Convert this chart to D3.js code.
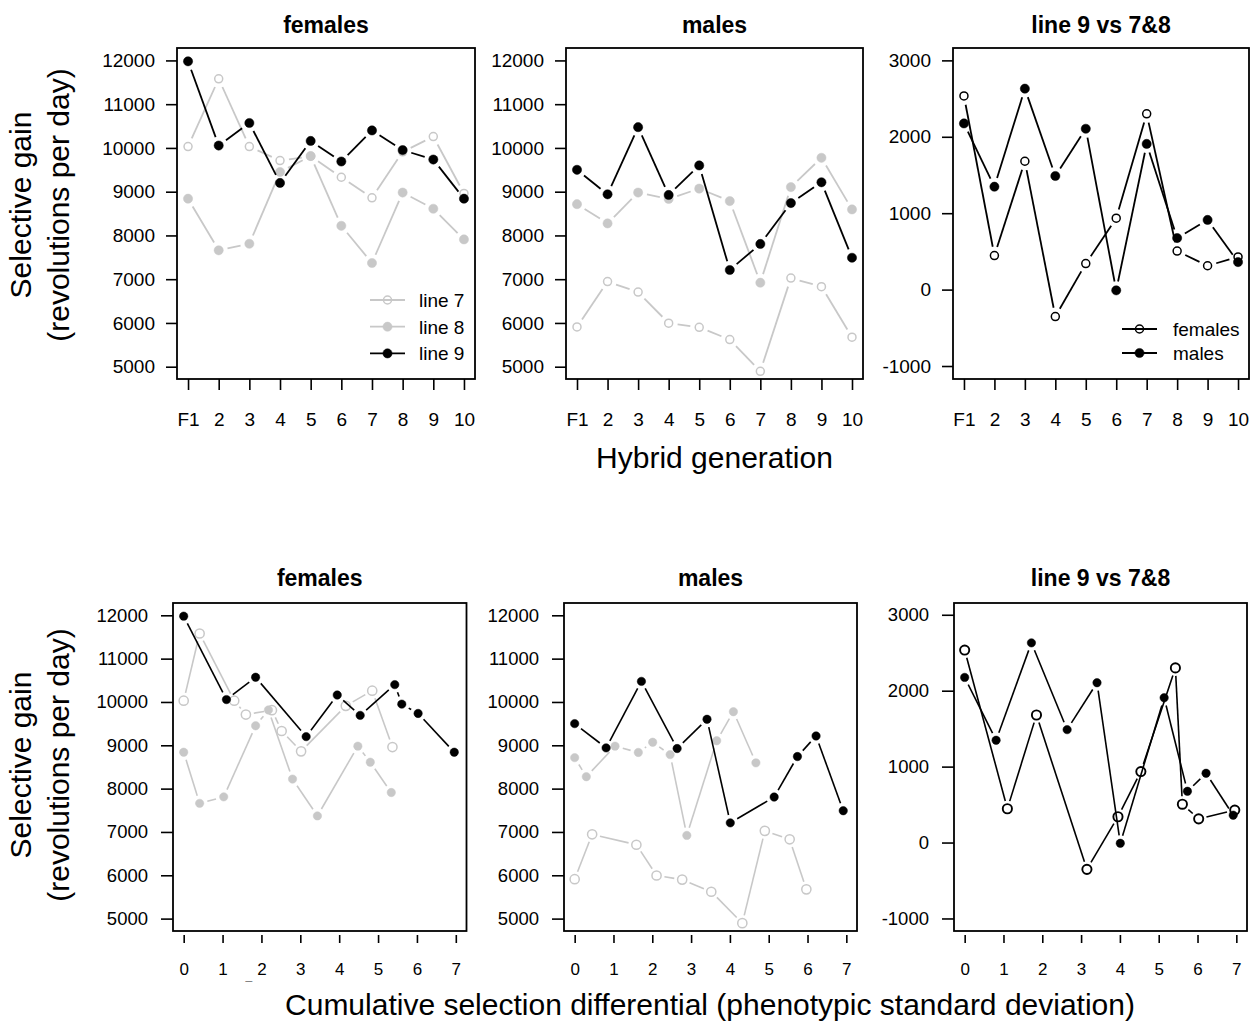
<!DOCTYPE html>
<html>
<head>
<meta charset="utf-8">
<script src="https://cdn.jsdelivr.net/npm/d3@7"></script>
<style>
  body { margin: 0; background: #fff; }
  text { font-family: "Liberation Sans", Arial, Helvetica, sans-serif; }
</style>
</head>
<body>
<svg id="chart"></svg>
<script>
// ---- data ----
const generations = ["F1", "2", "3", "4", "5", "6", "7", "8", "9", "10"];

// selective gain, revolutions per day
const femLine7 = [10030, 11580, 10030, 9710, 9810, 9330, 8860, 9910, 10260, 8960];
const femLine8 = [8840, 7660, 7810, 9450, 9815, 8220, 7370, 8980, 8610, 7910];
const femLine9 = [11980, 10055, 10570, 9200, 10160, 9690, 10400, 9950, 9735, 8840];
const maleLine7 = [5910, 6945, 6705, 5995, 5900, 5620, 4895, 7025, 6830, 5675];
const maleLine8 = [8715, 8275, 8980, 8835, 9070, 8785, 6920, 9105, 9775, 8595];
const maleLine9 = [9500, 8940, 10475, 8925, 9600, 7210, 7805, 8740, 9215, 7490];

// line 9 minus mean of lines 7 & 8
const diffFemales = [2535, 445, 1680, -353, 340, 935, 2300, 505, 312, 428];
const diffMales = [2175, 1347, 2630, 1487, 2105, -10, 1907, 675, 912, 360];

// cumulative selection differential (phenotypic SD)
const femSD7 = [0, 0.41, 1.30, 1.60, 2.27, 2.52, 3.02, 4.17, 4.85, 5.37];
const femSD8 = [0, 0.41, 1.03, 1.85, 2.18, 2.80, 3.44, 4.48, 4.80, 5.34];
const femSD9 = [0, 1.10, 1.85, 3.15, 3.95, 4.54, 5.43, 5.61, 6.03, 6.96];
const maleSD7 = [0, 0.45, 1.59, 2.11, 2.77, 3.52, 4.32, 4.90, 5.54, 5.97];
const maleSD8 = [0, 0.30, 1.04, 1.64, 2.01, 2.46, 2.89, 3.66, 4.09, 4.67];
const maleSD9 = [0, 0.81, 1.72, 2.64, 3.41, 4.01, 5.14, 5.74, 6.22, 6.92];

const gainTicks = [5000, 6000, 7000, 8000, 9000, 10000, 11000, 12000];
const diffTicks = [-1000, 0, 1000, 2000, 3000];
const sdTicks = [0, 1, 2, 3, 4, 5, 6, 7];

const grey = "#c8c8c8";
const genIndex = generations.map((d, i) => i + 1);

const svg = d3.select("#chart").attr("width", 1251).attr("height", 1021);

function drawPanel(p) {
  const x = d3.scaleLinear().domain(p.xDomain).range([p.left, p.right]);
  const y = d3.scaleLinear().domain(p.yDomain).range([p.bottom, p.top]);
  const g = svg.append("g");

  // title
  g.append("text")
    .attr("x", (p.left + p.right) / 2)
    .attr("y", p.titleY)
    .attr("text-anchor", "middle")
    .style("font-size", "23px")
    .style("font-weight", "bold")
    .text(p.title);

  // x axis (ticks only, like R)
  const xAxis = d3.axisBottom(x)
    .tickValues(p.xTicks)
    .tickSizeOuter(0)
    .tickSize(p.xTickLen)
    .tickPadding(p.xTickPad);
  if (p.xFormat) xAxis.tickFormat(p.xFormat);
  const xg = g.append("g")
    .attr("transform", `translate(0,${p.bottom + p.xTickGap})`)
    .call(xAxis);
  xg.select(".domain").remove();
  xg.selectAll("line").attr("stroke", "#000").attr("stroke-width", 1.6);
  xg.selectAll("text").attr("fill", "#000").style("font-size", p.xFont + "px")
    .style("font-family", '"Liberation Sans", Arial, sans-serif');

  // y axis
  const yAxis = d3.axisLeft(y)
    .tickValues(p.yTicks)
    .tickSizeOuter(0)
    .tickSize(p.yTickLen)
    .tickPadding(p.yTickPad)
    .tickFormat(d => d < 0 ? "-" + Math.abs(d) : String(d));
  const yg = g.append("g")
    .attr("transform", `translate(${p.left},0)`)
    .call(yAxis);
  yg.select(".domain").remove();
  yg.selectAll("line").attr("stroke", "#000").attr("stroke-width", 1.6);
  yg.selectAll("text").attr("fill", "#000").style("font-size", p.yFont + "px")
    .style("font-family", '"Liberation Sans", Arial, sans-serif');

  // series: lines with gaps round the points (R type = "b")
  p.series.forEach(s => {
    const pts = s.x.map((xv, i) => [x(xv), y(s.y[i])]);
    for (let i = 0; i < pts.length - 1; i++) {
      const [x0, y0] = pts[i], [x1, y1] = pts[i + 1];
      const dx = x1 - x0, dy = y1 - y0;
      const len = Math.hypot(dx, dy);
      if (len <= 2 * p.gap) continue;
      const ux = dx / len, uy = dy / len;
      g.append("line")
        .attr("x1", x0 + ux * p.gap).attr("y1", y0 + uy * p.gap)
        .attr("x2", x1 - ux * p.gap).attr("y2", y1 - uy * p.gap)
        .attr("stroke", s.color)
        .attr("stroke-width", p.lineWidth);
    }
    g.selectAll(null)
      .data(pts)
      .enter().append("circle")
      .attr("cx", d => d[0])
      .attr("cy", d => d[1])
      .attr("r", s.filled ? p.dotR : p.ringR)
      .attr("fill", s.filled ? s.color : "none")
      .attr("stroke", s.color)
      .attr("stroke-width", s.filled ? 0.5 : p.ringW);
  });

  // legend
  if (p.legend) {
    const L = p.legend;
    L.items.forEach((it, i) => {
      const ly = L.y + i * L.step;
      g.append("line")
        .attr("x1", L.x).attr("x2", L.x + L.len)
        .attr("y1", ly).attr("y2", ly)
        .attr("stroke", it.color).attr("stroke-width", 1.8);
      g.append("circle")
        .attr("cx", L.x + L.len / 2).attr("cy", ly)
        .attr("r", it.filled ? p.dotR : p.ringR)
        .attr("fill", it.filled ? it.color : "none")
        .attr("stroke", it.color)
        .attr("stroke-width", it.filled ? 0.5 : p.ringW);
      g.append("text")
        .attr("x", L.textX).attr("y", ly + 7)
        .style("font-size", "19px")
        .text(it.label);
    });
  }

  // frame
  g.append("rect")
    .attr("x", p.left).attr("y", p.top)
    .attr("width", p.right - p.left).attr("height", p.bottom - p.top)
    .attr("fill", "none").attr("stroke", "#000").attr("stroke-width", 1.8);

  return x;
}

// shared settings for each row
const topRow = {
  top: 48, bottom: 379, titleY: 33,
  xDomain: [0.64, 10.36], xTicks: genIndex, xFormat: d => generations[d - 1],
  xTickLen: 11, xTickGap: 0, xTickPad: 23, xFont: 19,
  yTickLen: 11, yTickPad: 11, yFont: 19,
  gap: 9, lineWidth: 1.8, dotR: 4.6, ringR: 4, ringW: 1.5
};
const bottomRow = {
  top: 603, bottom: 931, titleY: 586,
  xDomain: [-0.275, 7.275], xTicks: sdTicks,
  xTickLen: 8, xTickGap: 4, xTickPad: 20, xFont: 17,
  yTickLen: 12, yTickPad: 13, yFont: 18.5,
  gap: 8, lineWidth: 1.6, dotR: 4.2, ringR: 4.6, ringW: 1.5
};

// ---- top row: by hybrid generation ----
drawPanel(Object.assign({}, topRow, {
  title: "females", left: 177, right: 475,
  yDomain: [4719, 12284], yTicks: gainTicks,
  series: [
    { x: genIndex, y: femLine7, color: grey, filled: false },
    { x: genIndex, y: femLine8, color: grey, filled: true },
    { x: genIndex, y: femLine9, color: "#000", filled: true }
  ],
  legend: {
    x: 370, len: 35, textX: 419, y: 300, step: 26.7,
    items: [
      { label: "line 7", color: grey, filled: false },
      { label: "line 8", color: grey, filled: true },
      { label: "line 9", color: "#000", filled: true }
    ]
  }
}));

drawPanel(Object.assign({}, topRow, {
  title: "males", left: 566, right: 863,
  yDomain: [4719, 12284], yTicks: gainTicks,
  series: [
    { x: genIndex, y: maleLine7, color: grey, filled: false },
    { x: genIndex, y: maleLine8, color: grey, filled: true },
    { x: genIndex, y: maleLine9, color: "#000", filled: true }
  ]
}));

drawPanel(Object.assign({}, topRow, {
  title: "line 9 vs 7&8", left: 953, right: 1249,
  yDomain: [-1170, 3162], yTicks: diffTicks,
  series: [
    { x: genIndex, y: diffFemales, color: "#000", filled: false },
    { x: genIndex, y: diffMales, color: "#000", filled: true }
  ],
  legend: {
    x: 1122, len: 35, textX: 1173, y: 329, step: 24,
    items: [
      { label: "females", color: "#000", filled: false },
      { label: "males", color: "#000", filled: true }
    ]
  }
}));

// ---- bottom row: by cumulative selection differential ----
const xFemBottom = drawPanel(Object.assign({}, bottomRow, {
  title: "females", left: 173, right: 466.5,
  yDomain: [4714, 12284], yTicks: gainTicks,
  series: [
    { x: femSD7, y: femLine7, color: grey, filled: false },
    { x: femSD8, y: femLine8, color: grey, filled: true },
    { x: femSD9, y: femLine9, color: "#000", filled: true }
  ]
}));

drawPanel(Object.assign({}, bottomRow, {
  title: "males", left: 564, right: 857,
  yDomain: [4714, 12284], yTicks: gainTicks,
  series: [
    { x: maleSD7, y: maleLine7, color: grey, filled: false },
    { x: maleSD8, y: maleLine8, color: grey, filled: true },
    { x: maleSD9, y: maleLine9, color: "#000", filled: true }
  ]
}));

drawPanel(Object.assign({}, bottomRow, {
  title: "line 9 vs 7&8", left: 954, right: 1247,
  yDomain: [-1165, 3155], yTicks: diffTicks,
  ringW: 1.9,
  series: [
    { x: femSD9, y: diffFemales, color: "#000", filled: false },
    { x: maleSD9, y: diffMales, color: "#000", filled: true }
  ]
}));

// small stray mark left of the "2" tick label in the bottom-left panel
svg.append("text")
  .attr("x", xFemBottom(2) - 16).attr("y", 979)
  .style("font-size", "12px").attr("fill", "#777")
  .text("_");

// ---- axis titles ----
function yTitle(cy) {
  [["Selective gain", 31], ["(revolutions per day)", 69]].forEach(([t, bx]) => {
    svg.append("text")
      .attr("transform", `translate(${bx},${cy}) rotate(-90)`)
      .attr("text-anchor", "middle")
      .style("font-size", "30px")
      .text(t);
  });
}
yTitle(205);
yTitle(765);

svg.append("text")
  .attr("x", 714.5).attr("y", 468)
  .attr("text-anchor", "middle")
  .style("font-size", "30px")
  .text("Hybrid generation");

svg.append("text")
  .attr("x", 710).attr("y", 1015)
  .attr("text-anchor", "middle")
  .style("font-size", "30px")
  .text("Cumulative selection differential (phenotypic standard deviation)");
</script>
</body>
</html>
